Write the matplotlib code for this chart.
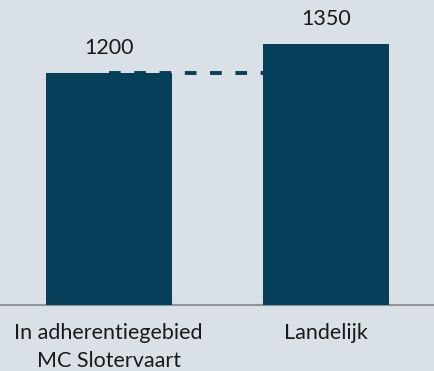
import matplotlib
matplotlib.use("Agg")
import matplotlib.pyplot as plt

categories = ["In adherentiegebied\nMC Slotervaart", "Landelijk"]
values = [1200, 1350]

bg = "#d9e1e7"
bar_color = "#053f59"

plt.rcParams["font.family"] = ["Lato", "DejaVu Sans"]

fig = plt.figure(figsize=(4.35, 3.71), dpi=100, facecolor=bg)
ax = fig.add_axes([0, 66 / 371, 1, 305 / 371], facecolor=bg)

x = list(range(len(categories)))
width = 0.58
ax.bar(x, values, width=width, color=bar_color, zorder=3)

# reference line from the first bar's level to the second bar
ax.plot([x[0], x[1] - width / 2], [values[0], values[0]], color=bar_color,
        lw=2.8, dashes=(3, 3.5), zorder=2)

for xi, v in zip(x, values):
    ax.annotate(f"{v}", (xi, v), xytext=(0, 11), textcoords="offset points",
                ha="center", va="bottom", fontsize=15.5, color="#1a1a1a")

ax.set_xlim(-0.5, 1.5)
ax.set_ylim(0, 1578)
ax.set_xticks(x)
ax.set_xticklabels(categories, fontsize=15.5, color="#1a1a1a", linespacing=1.5)
ax.tick_params(axis="x", length=0, pad=13)
ax.set_yticks([])
for s in ["top", "left", "right"]:
    ax.spines[s].set_visible(False)
ax.spines["bottom"].set_color("#8f9499")
ax.spines["bottom"].set_linewidth(1.5)

fig.savefig("out.png", dpi=100, facecolor=bg)
